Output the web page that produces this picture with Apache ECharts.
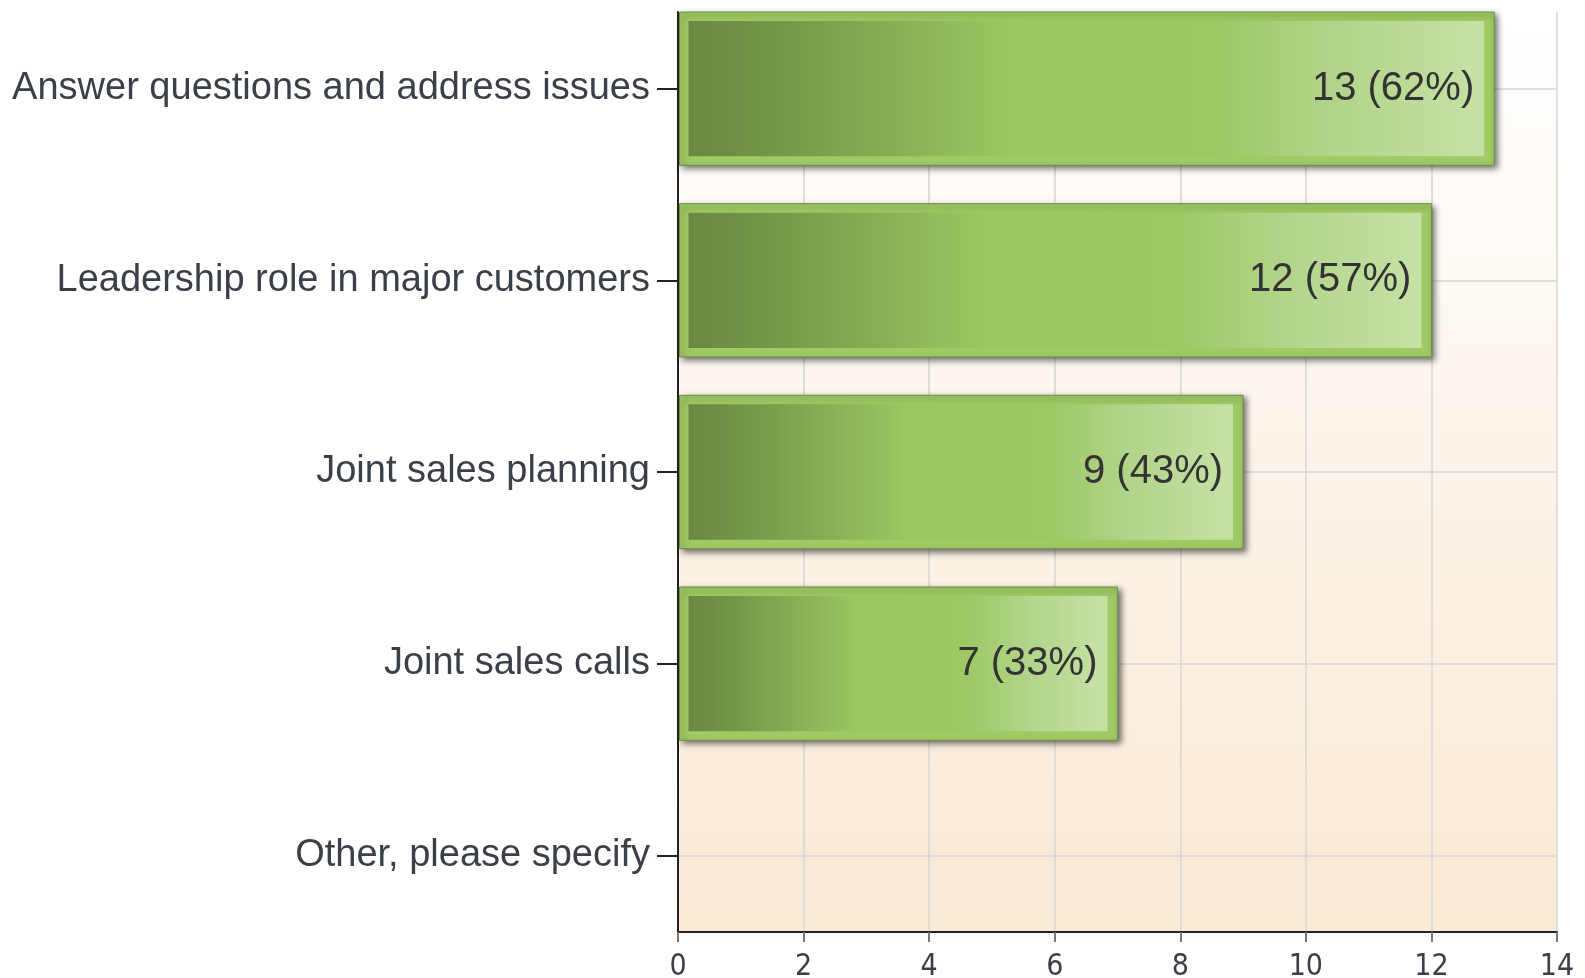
<!DOCTYPE html>
<html><head><meta charset="utf-8">
<script src="https://cdn.jsdelivr.net/npm/echarts@6/dist/echarts.min.js"></script>
<style>html,body{margin:0;padding:0;background:#fff}#c{width:1585px;height:978px}</style>
</head><body><div id="c"></div>
<script>
const categories = ['Answer questions and address issues','Leadership role in major customers','Joint sales planning','Joint sales calls','Other, please specify'];
const counts = [13, 12, 9, 7, 0];
const percents = [62, 57, 43, 33, 0];
const xMin = 0, xMax = 14, xStep = 2;
const catIndex = categories.map((c, i) => i);

const chart = echarts.init(document.getElementById('c'), null, {renderer: 'canvas'});
const innerGrad = () => new echarts.graphic.LinearGradient(0, 0, 1, 0, [
  {offset: 0, color: '#698940'},
  {offset: 0.12, color: '#769849'},
  {offset: 0.26, color: '#89af55'},
  {offset: 0.4, color: '#9bc662'},
  {offset: 0.66, color: '#9dc864'},
  {offset: 0.8, color: '#b0d487'},
  {offset: 1, color: '#c6e1a6'}
]);
const option = {
  animation: false,
  grid: {
    left: 678, right: 28, top: 12, bottom: 46, show: true, borderWidth: 0,
    containLabel: false, outerBoundsMode: 'none',
    backgroundColor: {type: 'linear', x: 0, y: 0, x2: 0, y2: 1,
      colorStops: [{offset: 0, color: '#ffffff'}, {offset: 1, color: '#f9e9d5'}]}
  },
  xAxis: {
    type: 'value', min: xMin, max: xMax, interval: xStep,
    axisLine: {show: true, onZero: false, lineStyle: {color: '#222', width: 2}},
    axisTick: {show: true, length: 10, lineStyle: {color: '#777', width: 2}},
    axisLabel: {margin: 20, color: '#3a3f48', fontSize: 30, fontFamily: '"Liberation Sans Narrow", "DejaVu Sans Condensed", "Liberation Sans", sans-serif'},
    splitLine: {show: true, lineStyle: {color: '#d6d6d6', width: 1.5}}
  },
  yAxis: {
    type: 'value', inverse: true, min: -0.4, max: 4.4,
    axisLine: {show: true, onZero: false, lineStyle: {color: '#222', width: 2}},
    axisTick: {show: true, customValues: catIndex, length: 21, lineStyle: {color: '#222', width: 2}},
    axisLabel: {customValues: catIndex, margin: 28, color: '#3a3f48', fontSize: 38,
      fontFamily: '"Liberation Sans", Arial, sans-serif',
      formatter: v => categories[Math.round(v)]},
    splitLine: {show: true, lineStyle: {color: '#d6d6d6', width: 1.5}}
  },
  series: [{
    type: 'custom',
    encode: {x: 0, y: 1},
    data: counts.map((v, i) => [v, i, percents[i]]),
    renderItem: function (params, api) {
      const v = api.value(0), idx = api.value(1), pct = api.value(2);
      if (!v) return null;
      const p0 = api.coord([0, idx]);
      const p1 = api.coord([v, idx]);
      const h = api.size([0, 0.8])[1];
      const x0 = p0[0] + 1.5, x1 = p1[0], yc = p0[1];
      const top = yc - h / 2;
      return {type: 'group', children: [
        {type: 'rect', shape: {x: x0, y: top, width: x1 - x0, height: h},
          style: {fill: '#9fca64', stroke: '#6f8f48', lineWidth: 1,
            shadowBlur: 6, shadowOffsetX: 3, shadowOffsetY: 3, shadowColor: 'rgba(0,0,0,0.55)'}},
        {type: 'rect', shape: {x: x0 + 9, y: top + 9, width: x1 - x0 - 19, height: h - 18},
          style: {fill: innerGrad()}},
        {type: 'text', x: x1 - 20, y: yc,
          style: {text: v + ' (' + pct + '%)', align: 'right', textAlign: 'right',
            verticalAlign: 'middle', textVerticalAlign: 'middle',
            font: '40px "Liberation Sans", Arial, sans-serif', fill: '#333'}}
      ]};
    }
  }]
};
chart.setOption(option);
</script></body></html>
